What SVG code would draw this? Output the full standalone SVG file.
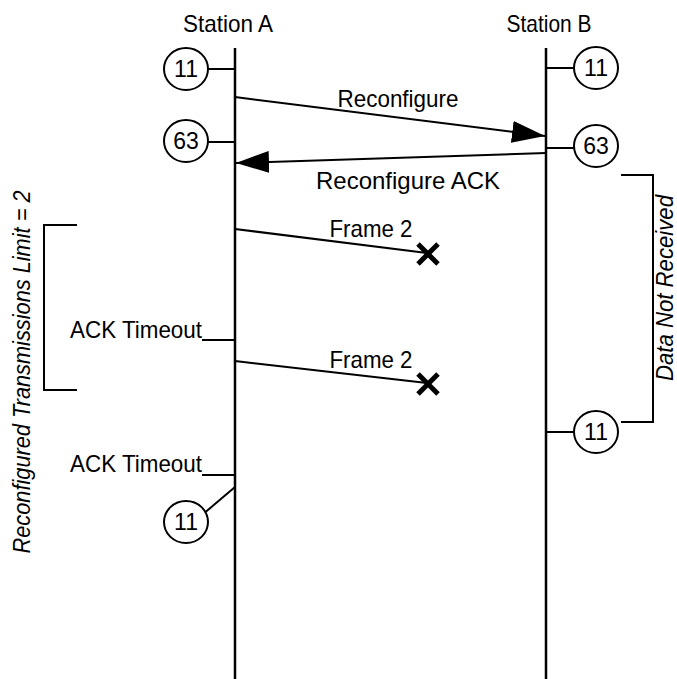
<svg xmlns="http://www.w3.org/2000/svg" width="677" height="679" viewBox="0 0 677 679">
<style>
text{font-family:"Liberation Sans",Arial,sans-serif;font-size:24px;fill:#000}
.ct{font-size:23px;text-anchor:middle}
.it{font-style:italic}
.ln{stroke:#000;stroke-width:2;fill:none}
.life{stroke:#000;stroke-width:2.5;fill:none}
.circ{stroke:#000;stroke-width:2;fill:#fff}
.x{stroke:#000;stroke-width:5;stroke-linecap:butt}
</style>
<defs>
<marker id="ah" markerUnits="userSpaceOnUse" markerWidth="34" markerHeight="24" refX="33" refY="11" orient="auto">
<path d="M0,0 L33,11 L0,22 Z" fill="#000"/>
</marker>
</defs>
<g id="stationA">
<text x="228" y="32" text-anchor="middle" textLength="90" lengthAdjust="spacingAndGlyphs">Station A</text>
<line class="life" x1="235" y1="48" x2="235" y2="679"/>
</g>
<g id="stationB">
<text x="549" y="32" text-anchor="middle" textLength="85" lengthAdjust="spacingAndGlyphs">Station B</text>
<line class="life" x1="546" y1="48" x2="546" y2="679"/>
</g>
<g id="connectors">
<line class="ln" x1="208" y1="69" x2="235" y2="69"/>
<line class="ln" x1="208" y1="142" x2="235" y2="142"/>
<line class="ln" x1="546" y1="68" x2="575" y2="68"/>
<line class="ln" x1="546" y1="148" x2="575" y2="148"/>
<line class="ln" x1="546" y1="432" x2="575" y2="432"/>
<line class="ln" x1="202" y1="340" x2="235" y2="340"/>
<line class="ln" x1="202" y1="475" x2="235" y2="475"/>
<line class="ln" x1="235" y1="487" x2="202" y2="515"/>
<line class="ln" x1="235" y1="97" x2="545" y2="136" marker-end="url(#ah)"/>
<line class="ln" x1="546" y1="153" x2="236" y2="163" marker-end="url(#ah)"/>
<line class="ln" x1="235" y1="229" x2="427" y2="253"/>
<line class="ln" x1="235" y1="361" x2="427" y2="383"/>
</g>
<g id="labels">
<text x="398" y="107" text-anchor="middle" textLength="121" lengthAdjust="spacingAndGlyphs">Reconfigure</text>
<text x="408" y="189" text-anchor="middle" textLength="184" lengthAdjust="spacingAndGlyphs">Reconfigure ACK</text>
<text x="371" y="237" text-anchor="middle" textLength="83" lengthAdjust="spacingAndGlyphs">Frame 2</text>
<text x="371" y="368" text-anchor="middle" textLength="83" lengthAdjust="spacingAndGlyphs">Frame 2</text>
<text x="202" y="338" text-anchor="end" textLength="132" lengthAdjust="spacingAndGlyphs">ACK Timeout</text>
<text x="202" y="472" text-anchor="end" textLength="132" lengthAdjust="spacingAndGlyphs">ACK Timeout</text>
</g>
<g id="lost1">
<line class="x" x1="418" y1="244" x2="438" y2="264"/>
<line class="x" x1="438" y1="244" x2="418" y2="264"/>
</g>
<g id="lost2">
<line class="x" x1="418" y1="374" x2="438" y2="394"/>
<line class="x" x1="438" y1="374" x2="418" y2="394"/>
</g>
<g id="cA11"><ellipse class="circ" cx="186" cy="69" rx="22" ry="21"/><text class="ct" x="186" y="77">11</text></g>
<g id="cA63"><ellipse class="circ" cx="186" cy="141" rx="22" ry="21"/><text class="ct" x="186" y="149">63</text></g>
<g id="cA11b"><ellipse class="circ" cx="186" cy="522" rx="22" ry="21"/><text class="ct" x="186" y="530">11</text></g>
<g id="cB11"><ellipse class="circ" cx="596" cy="68" rx="22" ry="21"/><text class="ct" x="596" y="76">11</text></g>
<g id="cB63"><ellipse class="circ" cx="596" cy="146" rx="22" ry="21"/><text class="ct" x="596" y="154">63</text></g>
<g id="cB11b"><ellipse class="circ" cx="596" cy="432" rx="22" ry="21"/><text class="ct" x="596" y="440">11</text></g>
<g id="bracketLeft">
<path class="ln" d="M77,225 H44 V390 H77"/>
<text class="it" transform="translate(30,372) rotate(-90)" text-anchor="middle" textLength="363" lengthAdjust="spacingAndGlyphs">Reconfigured Transmissions Limit = 2</text>
</g>
<g id="bracketRight">
<path class="ln" d="M621,175 H653 V422 H621"/>
<text class="it" transform="translate(673,288) rotate(-90)" text-anchor="middle" textLength="186" lengthAdjust="spacingAndGlyphs">Data Not Received</text>
</g>
</svg>
